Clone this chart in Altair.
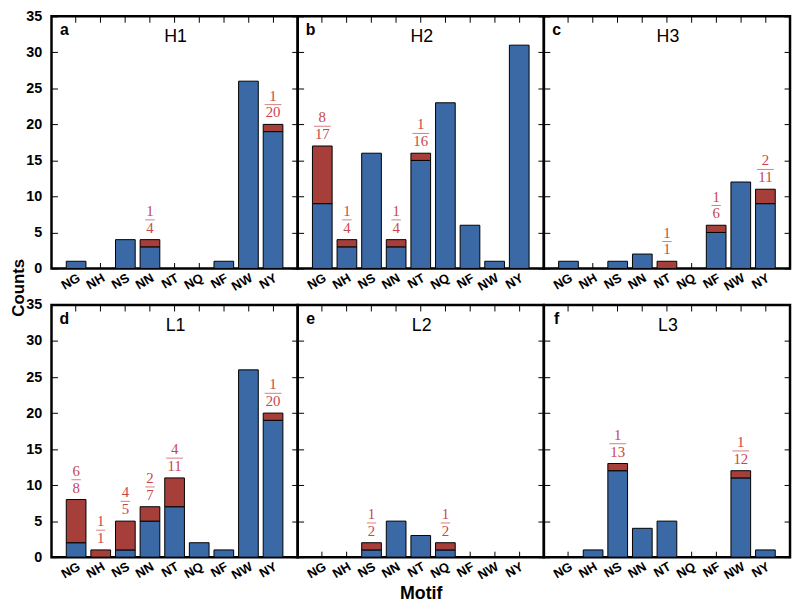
import altair as alt
import pandas as pd

motifs = ["NG", "NH", "NS", "NN", "NT", "NQ", "NF", "NW", "NY"]
panel_ids = ["H1", "H2", "H3", "L1", "L2", "L3"]
panel_letters = ["a", "b", "c", "d", "e", "f"]

blue_H1 = [1, 0, 4, 3, 0, 0, 1, 26, 19]
red_H1 = [0, 0, 0, 1, 0, 0, 0, 0, 1]
blue_H2 = [9, 3, 16, 3, 15, 23, 6, 1, 31]
red_H2 = [8, 1, 0, 1, 1, 0, 0, 0, 0]
blue_H3 = [1, 0, 1, 2, 0, 0, 5, 12, 9]
red_H3 = [0, 0, 0, 0, 1, 0, 1, 0, 2]
blue_L1 = [2, 0, 1, 5, 7, 2, 1, 26, 19]
red_L1 = [6, 1, 4, 2, 4, 0, 0, 0, 1]
blue_L2 = [0, 0, 1, 5, 3, 1, 0, 0, 0]
red_L2 = [0, 0, 1, 0, 0, 1, 0, 0, 0]
blue_L3 = [0, 1, 12, 4, 5, 0, 0, 11, 1]
red_L3 = [0, 0, 1, 0, 0, 0, 0, 1, 0]

blue_all = [blue_H1, blue_H2, blue_H3, blue_L1, blue_L2, blue_L3]
red_all = [red_H1, red_H2, red_H3, red_L1, red_L2, red_L3]
y_ticks = [0, 5, 10, 15, 20, 25, 30, 35]

BLUE = "#3A69A5"
RED = "#A63F3A"
TXT = "#C8464A"
W = 249
H = 255
SANS = "Liberation Sans"
SERIF = "Liberation Serif"


def panel(i):
    pid = panel_ids[i]
    rows = []
    fr = []
    for m, b, r in zip(motifs, blue_all[i], red_all[i]):
        if b > 0:
            rows.append(dict(motif=m, part="blue", count=b, o=0))
        if r > 0:
            rows.append(dict(motif=m, part="red", count=r, o=1))
            num, den = str(r), str(b + r)
            fr.append(dict(motif=m, total=b + r, num=num, den=den,
                           lw=7.5 * max(len(num), len(den)) + 2))
    bars_df = pd.DataFrame(rows)
    frac_df = pd.DataFrame(fr)

    left = i % 3 == 0
    xscale = alt.Scale(domain=motifs, paddingInner=0.2, paddingOuter=0.6)
    yscale = alt.Scale(domain=[0, 35], nice=False, zero=True)

    xaxis_kw = dict(orient="bottom", offset=-6, tickSize=6, domain=False,
                    labelAngle=-30, labelAlign="right", labelBaseline="top",
                    labelPadding=3, labelFont=SANS, labelFontWeight="bold",
                    labelFontSize=13, labelColor="black", tickColor="black",
                    tickWidth=1, minExtent=0)
    if i == 4:
        xaxis_kw.update(title="Motif", titleFont=SANS, titleFontWeight="bold",
                        titleFontSize=18, titleColor="black", titlePadding=3)
    else:
        xaxis_kw.update(title=None)

    yaxis_kw = dict(orient="left", offset=-6, tickSize=6, domain=False,
                    values=y_ticks, labels=left, labelPadding=10,
                    labelFont=SANS, labelFontWeight="bold", labelFontSize=14.5,
                    labelColor="black", tickColor="black", tickWidth=1)
    if i == 0:
        yaxis_kw.update(title="Counts", titleFont=SANS, titleFontWeight="bold",
                        titleFontSize=17, titleColor="black",
                        titleX=-39.5, titleY=274, titleBaseline="middle",
                        titleAlign="center")
    else:
        yaxis_kw.update(title=None)

    bars = alt.Chart(bars_df).mark_bar(stroke="black", strokeWidth=1).encode(
        x=alt.X("motif:N", scale=xscale, sort=motifs, axis=alt.Axis(**xaxis_kw)),
        y=alt.Y("count:Q", scale=yscale, stack="zero", axis=alt.Axis(**yaxis_kw)),
        color=alt.Color("part:N", scale=alt.Scale(domain=["blue", "red"], range=[BLUE, RED]), legend=None),
        order=alt.Order("o:Q"),
    )
    ghost = alt.Chart(bars_df).mark_bar(opacity=0).encode(
        x=alt.X("motif:N", scale=xscale, sort=motifs,
                axis=alt.Axis(orient="top", offset=-6, tickSize=6, domain=False,
                              labels=False, title=None, tickColor="black",
                              minExtent=0, maxExtent=0)),
        y=alt.Y("count:Q", scale=yscale, stack="zero",
                axis=alt.Axis(orient="right", offset=-6, tickSize=6, domain=False,
                              labels=False, title=None, values=y_ticks,
                              tickColor="black", minExtent=0, maxExtent=0)),
    )
    layers = [bars, ghost]
    if len(frac_df):
        xe = alt.X("motif:N", scale=xscale, sort=motifs, axis=None)
        ye = alt.Y("total:Q", scale=yscale, axis=None)
        den = alt.Chart(frac_df).mark_text(font=SERIF, fontSize=15, color=TXT,
                                           baseline="middle", dy=-12).encode(
            x=xe, y=ye, text="den:N")
        num = alt.Chart(frac_df).mark_text(font=SERIF, fontSize=15, color=TXT,
                                           baseline="middle", dy=-29).encode(
            x=xe, y=ye, text="num:N")
        line = alt.Chart(frac_df).mark_tick(color=TXT, thickness=1, yOffset=-20).encode(
            x=xe, y=ye, size=alt.Size("lw:Q", scale=None, legend=None))
        layers += [den, line, num]
    lab_df = pd.DataFrame({"t": [pid], "l": [panel_letters[i]]})
    title = alt.Chart(lab_df).mark_text(font=SANS, fontSize=18, color="black",
                                        baseline="middle", align="center").encode(
        x=alt.value(W / 2 + 1), y=alt.value(21), text="t:N")
    letter = alt.Chart(lab_df).mark_text(font=SANS, fontSize=16, fontWeight="bold",
                                         color="black", baseline="middle",
                                         align="center").encode(
        x=alt.value(13), y=alt.value(14), text="l:N")
    layers += [title, letter]
    return alt.layer(*layers).resolve_axis(x="independent", y="independent").properties(
        width=W, height=H)


chart = alt.concat(*[panel(i) for i in range(6)], columns=3,
                   spacing={"row": 37, "column": 0}, bounds="flush").properties(
    padding={"left": 0, "top": -5, "right": 0, "bottom": 0}
).configure_view(stroke="black", strokeWidth=2.5).configure_axis(grid=False)

chart.save("out.html", embed_options={"renderer": "svg", "actions": False})
